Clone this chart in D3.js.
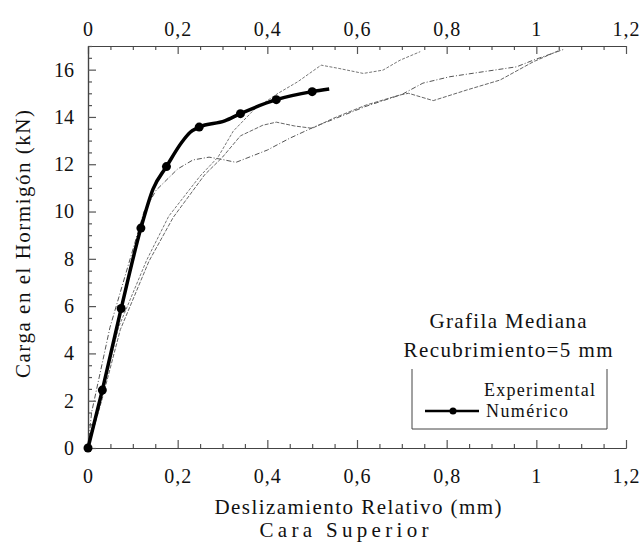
<!DOCTYPE html>
<html>
<head>
<meta charset="utf-8">
<script src="https://cdn.jsdelivr.net/npm/d3@7"></script>
<style>
  body { margin: 0; background: #fff; }
  text { font-family: "Liberation Serif", "DejaVu Serif", serif; fill: #111; }
</style>
</head>
<body>
<div id="chart"></div>
<script>
// tick values
const xTicks = [0, 0.2, 0.4, 0.6, 0.8, 1, 1.2];
const yTicks = [0, 2, 4, 6, 8, 10, 12, 14, 16];

// Numérico (modelo) - curve and the points with markers
const numericoCurve = [
    [0, 0], [0.032, 2.45], [0.074, 5.9], [0.118, 9.3], [0.145, 10.95],
    [0.175, 11.9], [0.21, 12.95], [0.228, 13.35], [0.248, 13.57], [0.305, 13.83],
    [0.34, 14.14], [0.42, 14.73], [0.5, 15.07], [0.538, 15.18]
];
const numericoMarks = [
    [0, 0], [0.032, 2.45], [0.074, 5.9], [0.118, 9.3], [0.175, 11.9],
    [0.248, 13.57], [0.34, 14.14], [0.42, 14.73], [0.5, 15.07]
];

// Experimental curves
const experimental1 = [
    [0, 0], [0.008, 1.5], [0.049, 5.1], [0.094, 8.0], [0.125, 10.0],
    [0.152, 10.9], [0.2, 11.8], [0.234, 12.18], [0.27, 12.3], [0.3, 12.2],
    [0.33, 12.08], [0.4, 12.6], [0.45, 13.1], [0.506, 13.59], [0.55, 13.92],
    [0.62, 14.45], [0.7, 14.95], [0.747, 15.43], [0.807, 15.7], [0.881, 15.91],
    [0.956, 16.12], [0.993, 16.4], [1.06, 16.85]
];
const experimental2 = [
    [0, 0], [0.03, 2.2], [0.068, 5.1], [0.131, 7.95], [0.18, 9.8],
    [0.25, 11.5], [0.29, 12.3], [0.324, 13.4], [0.37, 14.3], [0.424, 15.0],
    [0.468, 15.49], [0.52, 16.19], [0.56, 16.05], [0.614, 15.84], [0.658, 15.98],
    [0.696, 16.4], [0.741, 16.76]
];
const experimental3 = [
    [0, 0], [0.032, 2.1], [0.072, 5.0], [0.136, 7.9], [0.19, 9.75],
    [0.26, 11.55], [0.3, 12.3], [0.34, 13.2], [0.39, 13.65], [0.42, 13.78],
    [0.46, 13.62], [0.5, 13.52], [0.547, 13.94], [0.62, 14.5], [0.696, 14.93],
    [0.715, 15.0], [0.77, 14.69], [0.845, 15.14], [0.919, 15.56], [0.993, 16.33],
    [1.053, 16.83]
];

const width = 641, height = 543;
const margin = { top: 46, right: 15, bottom: 95, left: 88 };

const svg = d3.select('#chart').append('svg')
    .attr('width', width)
    .attr('height', height);

const x = d3.scaleLinear().domain([0, 1.2]).range([margin.left, width - margin.right]);
const y = d3.scaleLinear().domain([0, 17]).range([height - margin.bottom, margin.top]);

const fmt = d => String(d).replace('.', ',');

const xMinor = d3.range(0, 1.2001, 0.05).map(d => +d.toFixed(2)).filter(d => !xTicks.includes(d));
const yMinor = d3.range(0, 17.001, 0.5).filter(d => !yTicks.includes(d));

function styleAxis(g) {
    g.attr('font-family', null);
    g.selectAll('path.domain').attr('stroke', '#444').attr('stroke-width', 1.2);
    g.selectAll('.tick line').attr('stroke', '#555').attr('stroke-width', 1.2);
    g.selectAll('.tick text')
        .attr('font-family', '"Liberation Serif", serif')
        .attr('font-size', 20)
        .attr('fill', '#111');
}

// bottom axis
svg.append('g')
    .attr('transform', `translate(0,${y(0)})`)
    .call(d3.axisBottom(x).tickValues(xMinor).tickSize(-4).tickSizeOuter(0).tickFormat(''))
    .call(styleAxis);
svg.append('g')
    .attr('transform', `translate(0,${y(0)})`)
    .call(d3.axisBottom(x).tickValues(xTicks).tickSize(-8).tickSizeOuter(0).tickPadding(21).tickFormat(fmt))
    .call(styleAxis)
    .selectAll('.tick text').attr('letter-spacing', 1);

// top axis
svg.append('g')
    .attr('transform', `translate(0,${y(17)})`)
    .call(d3.axisTop(x).tickValues(xMinor).tickSize(-4).tickSizeOuter(0).tickFormat(''))
    .call(styleAxis);
svg.append('g')
    .attr('transform', `translate(0,${y(17)})`)
    .call(d3.axisTop(x).tickValues(xTicks).tickSize(-8).tickSizeOuter(0).tickPadding(10).tickFormat(fmt))
    .call(styleAxis)
    .selectAll('.tick text').attr('letter-spacing', 1);

// left axis
svg.append('g')
    .attr('transform', `translate(${x(0)},0)`)
    .call(d3.axisLeft(y).tickValues(yMinor).tickSize(-4).tickSizeOuter(0).tickFormat(''))
    .call(styleAxis);
svg.append('g')
    .attr('transform', `translate(${x(0)},0)`)
    .call(d3.axisLeft(y).tickValues(yTicks).tickSize(-8).tickSizeOuter(0).tickPadding(14))
    .call(styleAxis);

// experimental lines
const line = d3.line().x(d => x(d[0])).y(d => y(d[1]));
const smooth = d3.line().x(d => x(d[0])).y(d => y(d[1])).curve(d3.curveMonotoneX);

const expStyles = [
    { data: experimental1, dash: '5,2,1,2', color: '#555' },
    { data: experimental2, dash: '3,1.5', color: '#777' },
    { data: experimental3, dash: '4,1.5', color: '#666' }
];
expStyles.forEach(s => {
    svg.append('path')
        .datum(s.data)
        .attr('d', line)
        .attr('fill', 'none')
        .attr('stroke', s.color)
        .attr('stroke-width', 1)
        .attr('stroke-dasharray', s.dash);
});

// numerico
svg.append('path')
    .datum(numericoCurve)
    .attr('d', smooth)
    .attr('fill', 'none')
    .attr('stroke', '#000')
    .attr('stroke-width', 3.5)
    .attr('stroke-linejoin', 'round');

svg.selectAll('circle.num')
    .data(numericoMarks)
    .enter().append('circle')
    .attr('class', 'num')
    .attr('cx', d => x(d[0]))
    .attr('cy', d => y(d[1]))
    .attr('r', 4.5)
    .attr('fill', '#000');

// axis titles
svg.append('text')
    .attr('transform', `translate(23,244) rotate(-90)`)
    .attr('text-anchor', 'middle')
    .attr('dy', '0.35em')
    .attr('font-size', 21)
    .attr('textLength', 268)
    .attr('lengthAdjust', 'spacing')
    .text('Carga en el Hormigón (kN)');

svg.append('text')
    .attr('x', 358).attr('y', 507)
    .attr('text-anchor', 'middle')
    .attr('dy', '0.35em')
    .attr('font-size', 21)
    .attr('textLength', 287)
    .attr('lengthAdjust', 'spacing')
    .text('Deslizamiento Relativo (mm)');

svg.append('text')
    .attr('x', 344).attr('y', 530)
    .attr('text-anchor', 'middle')
    .attr('dy', '0.35em')
    .attr('font-size', 21)
    .attr('textLength', 169)
    .attr('lengthAdjust', 'spacing')
    .text('Cara Superior');

// legend
const lg = svg.append('g');
lg.append('text')
    .attr('x', 508).attr('y', 321)
    .attr('text-anchor', 'middle').attr('dy', '0.35em')
    .attr('font-size', 21)
    .attr('textLength', 157).attr('lengthAdjust', 'spacing')
    .text('Grafila Mediana');
lg.append('text')
    .attr('x', 508).attr('y', 350)
    .attr('text-anchor', 'middle').attr('dy', '0.35em')
    .attr('font-size', 21)
    .attr('textLength', 209).attr('lengthAdjust', 'spacing')
    .text('Recubrimiento=5 mm');

lg.append('path')
    .attr('d', 'M412,369 V429 H607 V369')
    .attr('fill', 'none')
    .attr('stroke', '#444')
    .attr('stroke-width', 1);

lg.append('text')
    .attr('x', 484).attr('y', 390)
    .attr('dy', '0.35em')
    .attr('font-size', 18)
    .attr('textLength', 111).attr('lengthAdjust', 'spacing')
    .text('Experimental');
lg.append('text')
    .attr('x', 486).attr('y', 411)
    .attr('dy', '0.35em')
    .attr('font-size', 18)
    .attr('textLength', 82).attr('lengthAdjust', 'spacing')
    .text('Numérico');
lg.append('line')
    .attr('x1', 425).attr('x2', 479).attr('y1', 411).attr('y2', 411)
    .attr('stroke', '#000').attr('stroke-width', 2.5);
lg.append('circle')
    .attr('cx', 453).attr('cy', 411).attr('r', 3.5).attr('fill', '#000');
</script>
</body>
</html>
